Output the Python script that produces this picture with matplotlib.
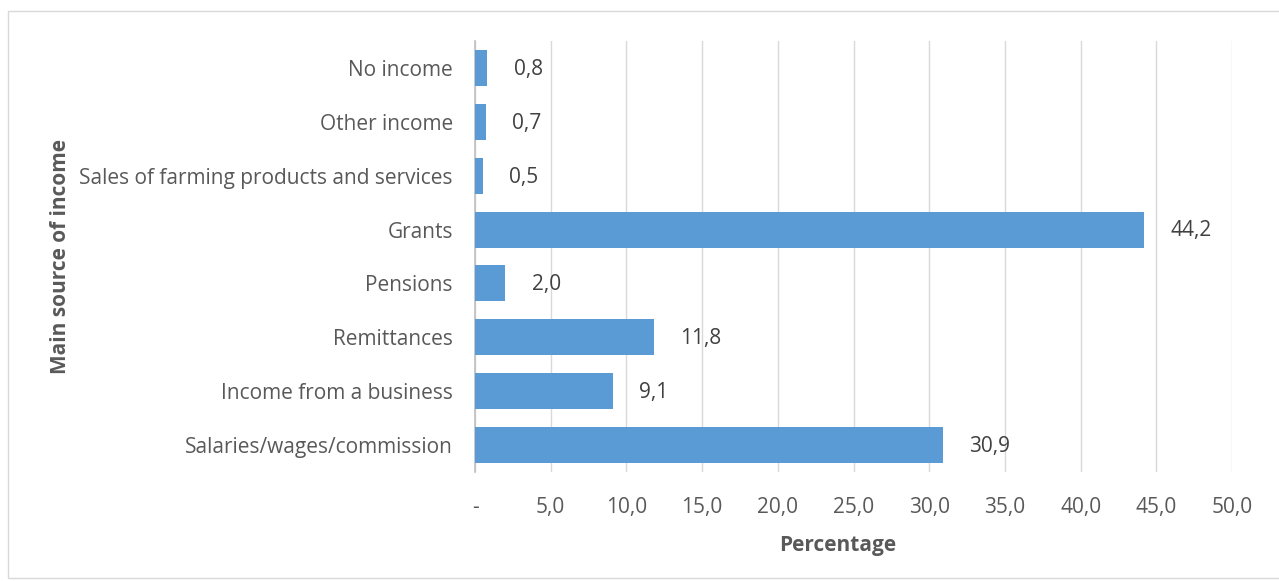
import matplotlib.pyplot as plt
from matplotlib.patches import Rectangle
from matplotlib.ticker import FuncFormatter

# ----------------------------
# Data
# ----------------------------
categories = [
    "Salaries/wages/commission",
    "Income from a business",
    "Remittances",
    "Pensions",
    "Grants",
    "Sales of farming products and services",
    "Other income",
    "No income",
]
values = [30.9, 9.1, 11.8, 2.0, 44.2, 0.5, 0.7, 0.8]
x_ticks = [0, 5, 10, 15, 20, 25, 30, 35, 40, 45, 50]

BAR_COLOR = "#5B9BD5"
TEXT_COLOR = "#595959"
GRID_COLOR = "#D9D9D9"
FONT_SIZE = 15

plt.rcParams['font.family'] = ['Open Sans', 'DejaVu Sans']

# ----------------------------
# Chart
# ----------------------------
W, H = 1279, 581
fig = plt.figure(figsize=(W / 100, H / 100), dpi=100)
ax = fig.add_axes([475 / W, 1 - 472 / H, 757 / W, 431 / H])

pos = list(range(len(categories)))
ax.barh(pos, values, height=0.67, color=BAR_COLOR, zorder=3)

for y, v in zip(pos, values):
    ax.annotate(f"{v:.1f}".replace(".", ","), xy=(v, y), xytext=(19, -1),
                textcoords="offset points", ha="left", va="center",
                fontsize=FONT_SIZE, color="#404040")

ax.set_xlim(0, 50)
ax.set_ylim(-0.5, len(categories) - 0.5)
ax.set_xticks(x_ticks)
ax.xaxis.set_major_formatter(FuncFormatter(
    lambda v, _: "-" if v == 0 else f"{v:.1f}".replace(".", ",")))
ax.set_yticks(pos)
ax.set_yticklabels(categories)

ax.tick_params(axis="both", length=0, labelsize=FONT_SIZE, colors=TEXT_COLOR)
ax.tick_params(axis="x", pad=18)
ax.tick_params(axis="y", pad=16)

ax.grid(axis="x", color=GRID_COLOR, linewidth=1, zorder=0)
for side in ["top", "right", "bottom"]:
    ax.spines[side].set_visible(False)
ax.spines["left"].set_color("#BFBFBF")
ax.spines["left"].set_linewidth(1.2)

# axis titles
fig.text(838 / W, 1 - 546 / H, "Percentage", fontsize=FONT_SIZE,
         fontweight="bold", color=TEXT_COLOR, ha="center", va="center")
fig.text(60 / W, 1 - 257 / H, "Main source of income", fontsize=FONT_SIZE,
         fontweight="bold", color=TEXT_COLOR, ha="center", va="center",
         rotation=90)

# outer chart border
fig.patches.append(Rectangle((8 / W, 3 / H), 1.0, 567 / H,
                             transform=fig.transFigure, fill=False,
                             edgecolor="#D9D9D9", linewidth=1))

fig.savefig("out.png", dpi=100)
